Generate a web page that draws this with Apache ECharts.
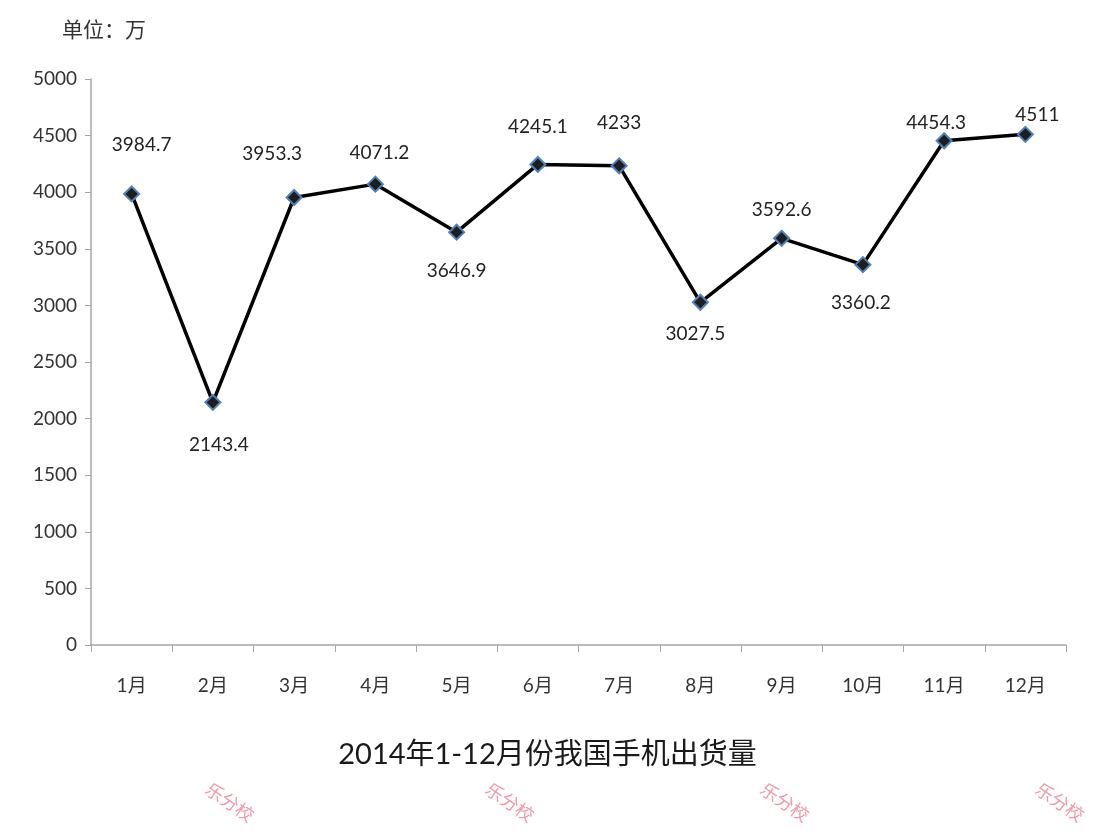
<!DOCTYPE html>
<html>
<head>
<meta charset="utf-8">
<script src="https://cdn.jsdelivr.net/npm/echarts@6/dist/echarts.min.js"></script>
<style>
  html, body { margin: 0; padding: 0; background: #fff; }
  #chart { width: 1095px; height: 831px; }
</style>
</head>
<body>
<div id="chart"></div>
<script>
var months = ['1月', '2月', '3月', '4月', '5月', '6月', '7月', '8月', '9月', '10月', '11月', '12月'];
var shipments = [3984.7, 2143.4, 3953.3, 4071.2, 3646.9, 4245.1, 4233, 3027.5, 3592.6, 3360.2, 4454.3, 4511];
var yTicks = [0, 500, 1000, 1500, 2000, 2500, 3000, 3500, 4000, 4500, 5000];

// label placement per point (style only)
var labelSide = ['top', 'bottom', 'top', 'top', 'bottom', 'top', 'top', 'bottom', 'top', 'bottom', 'top', 'top'];
var labelGap = [31, 25, 26, 13, 21, 20, 25, 14, 10, 20, 0, 1];
var labelShift = [10, 6, -22, 4, 0, 0, 0, -5, 0, -2, -8, 12];

var font = 'Lato, "Noto Sans CJK SC", sans-serif';
var chart = echarts.init(document.getElementById('chart'), null, { renderer: 'canvas' });

var data = shipments.map(function (v, i) {
  return {
    value: v,
    label: {
      position: labelSide[i],
      distance: labelGap[i],
      offset: [labelShift[i], 0]
    }
  };
});

var marks = [230, 510, 785, 1060].map(function (x) {
  return {
    type: 'text',
    x: x,
    y: 802,
    rotation: -0.6,
    style: {
      text: '乐分校',
      fill: '#f199ab',
      font: '18px "Noto Sans CJK SC"',
      align: 'center',
      verticalAlign: 'middle'
    }
  };
});

chart.setOption({
  animation: false,
  backgroundColor: '#fff',
  title: {
    text: '2014年1-12月份我国手机出货量',
    left: 'center',
    top: 735,
    textStyle: { color: '#1a1a1a', fontSize: 29, fontWeight: 'normal', fontFamily: font }
  },
  graphic: [{
    type: 'text',
    x: 62,
    y: 19,
    style: { text: '单位：万', fill: '#333', font: '21px "Noto Sans CJK SC"' }
  }].concat(marks),
  grid: { left: 91, right: 29, top: 79, bottom: 186 },
  xAxis: {
    type: 'category',
    data: months,
    boundaryGap: true,
    axisLine: { lineStyle: { color: '#a6a6a6', width: 1.5 } },
    axisTick: { show: true, length: 7, lineStyle: { color: '#a6a6a6' } },
    axisLabel: { color: '#333', fontSize: 19, margin: 31, fontFamily: font }
  },
  yAxis: {
    type: 'value',
    min: 0,
    max: 5000,
    interval: 500,
    axisLine: { show: true, lineStyle: { color: '#a6a6a6', width: 1.5 } },
    axisTick: { show: true, length: 6, lineStyle: { color: '#a6a6a6' } },
    splitLine: { show: false },
    axisLabel: {
      color: '#333', fontSize: 19, margin: 14, fontFamily: font,
      formatter: function (v) { return yTicks.indexOf(v) >= 0 ? String(v) : ''; }
    }
  },
  series: [{
    type: 'line',
    data: data,
    symbol: 'diamond',
    symbolSize: 15,
    lineStyle: { color: '#000', width: 3.5 },
    itemStyle: { color: '#1e1e1e', borderColor: '#4f81bd', borderWidth: 2 },
    label: {
      show: true,
      color: '#222',
      fontSize: 19,
      fontFamily: font
    }
  }]
});
</script>
</body>
</html>
